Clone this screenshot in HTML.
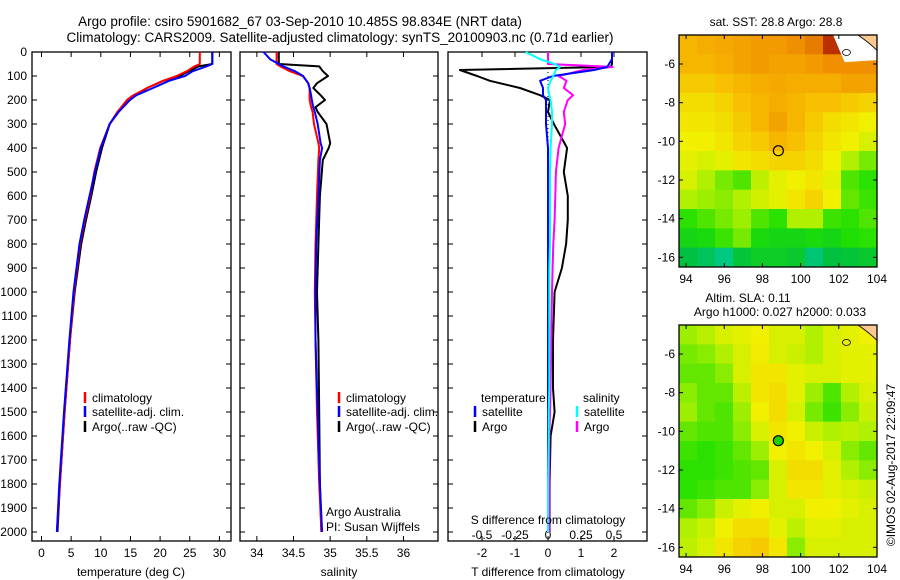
<!DOCTYPE html>
<html><head><meta charset="utf-8"><style>
html,body{margin:0;padding:0;background:#fff;}
svg{display:block;font-family:"Liberation Sans",sans-serif;}
</style></head><body>
<svg id="fig" width="900" height="580" viewBox="0 0 900 580" xmlns="http://www.w3.org/2000/svg">
<text x="300" y="26" font-size="13.5" text-anchor="middle">Argo profile: csiro 5901682_67 03-Sep-2010 10.485S 98.834E (NRT data)</text>
<text x="340" y="42" font-size="13.5" text-anchor="middle">Climatology: CARS2009. Satellite-adjusted climatology: synTS_20100903.nc (0.71d earlier)</text>
<g id="plots"></g>
</svg>
<script>
// ---- data ----
const tDepth = [0,50,60,80,100,120,150,180,200,250,300,400,500,600,700,800,1000,1200,1500,1800,2000];
const tClim  = [26.7,26.7,25.8,24.5,22.8,20.5,17.8,15.5,14.4,12.8,11.5,9.9,8.9,8.2,7.3,6.5,5.5,4.8,3.9,3.1,2.6];
const tSat   = [28.8,28.8,27.8,25.5,24.2,21.5,18.8,16,14.9,13,11.5,10,9,8.1,7.2,6.4,5.4,4.7,3.8,3.0,2.6];
const tArgo  = [28.8,28.8,26.5,24.8,23.3,20.5,17.8,15.8,14.9,12.8,11.5,10.2,9.2,8.4,7.5,6.7,5.6,4.8,3.9,3.1,2.7];
const sDepth = [0,30,50,60,80,100,130,150,180,200,230,250,300,380,400,450,600,800,1000,1200,1500,1800,2000];
const sClim  = [34.27,34.27,34.27,34.32,34.45,34.63,34.70,34.72,34.72,34.72,34.74,34.76,34.78,34.84,34.85,34.84,34.82,34.80,34.79,34.80,34.82,34.85,34.88];
const sSat   = [34.09,34.18,34.30,34.36,34.52,34.63,34.70,34.72,34.74,34.75,34.77,34.79,34.83,34.87,34.89,34.86,34.84,34.81,34.80,34.80,34.83,34.86,34.89];
const sArgo  = [34.30,34.30,34.30,34.85,34.90,34.97,34.82,34.77,34.87,34.93,34.80,34.83,34.95,35.00,34.98,34.90,34.86,34.84,34.82,34.84,34.85,34.86,34.88];
const dDepth = [0,30,50,62,75,100,120,150,180,200,250,300,400,500,600,700,800,900,1000,1200,1400,1500,1600,1800,2000];
const dTArgo = [1.94,1.94,1.94,1.9,-2.67,-2.15,-1.76,-0.85,-0.24,0.06,0.0,0.18,0.58,0.48,0.6,0.6,0.55,0.42,0.2,0.15,0.15,0.2,0.08,0.05,0.05];
const dTSat  = [1.94,1.94,1.85,1.8,1.4,0.15,-0.24,-0.15,-0.15,-0.06,-0.06,-0.06,0,0,0,0,0,0,0,0,0,0,0,0,0];
const dSSat  = [-0.17,-0.06,0.05,0.09,0.06,0.04,0.02,0.0,0.01,0.02,0.03,0.03,0.02,0.015,0.015,0.015,0.015,0.01,0.01,0.01,0.01,0.005,0.005,0.0,0.0];
const dSArgo = [0,0,0,0.49,0.27,0.08,0.14,0.12,0.19,0.15,0.12,0.13,0.08,0.06,0.055,0.05,0.04,0.035,0.03,0.025,0.02,0.015,0.01,0.01,0.01];
const depthTicks = [0,100,200,300,400,500,600,700,800,900,1000,1100,1200,1300,1400,1500,1600,1700,1800,1900,2000];
const tTicks = [0,5,10,15,20,25,30];
const sTicks = [34,34.5,35,35.5,36];
const sTickLabels = ["34","34.5","35","35.5","36"];
const dTTicks = [-2,-1,0,1,2];
const dSTicks = [-0.5,-0.25,0,0.25,0.5];
const dSTickLabels = ["-0.5","-0.25","0","0.25","0.5"];
const lonTicks = [94,96,98,100,102,104];
const latTicks = [-6,-8,-10,-12,-14,-16];
const sstGrid = [
[0.72,0.74,0.75,0.76,0.78,0.78,0.8,0.82,0.9,0.95,0.95],
[0.72,0.72,0.74,0.76,0.78,0.76,0.76,0.78,0.8,0.8,0.8],
[0.68,0.68,0.7,0.72,0.74,0.75,0.74,0.74,0.74,0.76,0.76],
[0.64,0.64,0.66,0.7,0.72,0.74,0.72,0.7,0.7,0.68,0.66],
[0.62,0.62,0.64,0.68,0.72,0.76,0.72,0.68,0.64,0.62,0.6],
[0.6,0.6,0.62,0.66,0.68,0.72,0.7,0.66,0.62,0.6,0.56],
[0.58,0.56,0.58,0.62,0.64,0.66,0.66,0.64,0.6,0.5,0.44],
[0.56,0.5,0.44,0.4,0.52,0.58,0.6,0.62,0.58,0.4,0.36],
[0.5,0.48,0.46,0.5,0.55,0.58,0.62,0.66,0.6,0.42,0.38],
[0.36,0.4,0.44,0.48,0.4,0.36,0.5,0.5,0.38,0.36,0.4],
[0.3,0.32,0.38,0.44,0.32,0.3,0.3,0.32,0.3,0.34,0.36],
[0.2,0.16,0.1,0.22,0.26,0.26,0.24,0.12,0.2,0.22,0.24]];
const slaGrid = [
[0.48,0.51,0.56,0.58,0.6,0.56,0.56,0.5,0.56,0.58,0.6],
[0.44,0.46,0.5,0.56,0.61,0.56,0.54,0.5,0.56,0.58,0.58],
[0.42,0.42,0.46,0.56,0.62,0.62,0.58,0.56,0.56,0.58,0.58],
[0.46,0.42,0.42,0.52,0.62,0.64,0.58,0.48,0.4,0.5,0.56],
[0.48,0.42,0.4,0.48,0.6,0.64,0.56,0.44,0.38,0.46,0.54],
[0.42,0.4,0.4,0.46,0.56,0.62,0.6,0.54,0.5,0.52,0.5],
[0.38,0.36,0.38,0.42,0.48,0.6,0.62,0.6,0.56,0.46,0.42],
[0.36,0.36,0.38,0.4,0.42,0.56,0.64,0.64,0.58,0.5,0.46],
[0.36,0.38,0.4,0.4,0.46,0.56,0.62,0.62,0.58,0.56,0.54],
[0.42,0.46,0.54,0.58,0.6,0.56,0.56,0.6,0.6,0.58,0.56],
[0.5,0.54,0.6,0.64,0.64,0.58,0.52,0.58,0.58,0.56,0.56],
[0.52,0.56,0.62,0.66,0.68,0.62,0.46,0.56,0.56,0.56,0.56]];
const argoLon = 98.834, argoLat = -10.485;

// ---- helpers ----
const NS = "http://www.w3.org/2000/svg";
const root = document.getElementById('plots');
function mk(tag, attrs, parent){ const e=document.createElementNS(NS,tag); for(const k in attrs) e.setAttribute(k,attrs[k]); (parent||root).appendChild(e); return e; }
function txt(s,x,y,attrs,parent){ const e=mk('text',Object.assign({x:x,y:y,'font-size':12},attrs||{}),parent); e.textContent=s; return e; }
const TOP=52, BOT=541;
const yD = d => TOP + d*0.24;
const xT = v => 41.5 + v*5.93;
const xS = v => 240 + (v-33.77)*73.3;
const xDT = v => 548 + v*33;
const xDS = v => 548 + v*132;

function frame(x0,x1,name){
  const r=mk('rect',{x:x0,y:TOP,width:x1-x0,height:BOT-TOP,fill:'none',stroke:'#000','stroke-width':1.3});
  
  
  depthTicks.forEach(d=>{ mk('line',{x1:x0,x2:x0+5,y1:yD(d),y2:yD(d),stroke:'#000'}); mk('line',{x1:x1-5,x2:x1,y1:yD(d),y2:yD(d),stroke:'#000'}); });
}
function xticks(vals,fx,labels,ly,name){
  vals.forEach((v,i)=>{ const x=fx(v);
    mk('line',{x1:x,x2:x,y1:TOP,y2:TOP+5,stroke:'#000'}); mk('line',{x1:x,x2:x,y1:BOT-5,y2:BOT,stroke:'#000'});
    const t=txt(labels?labels[i]:String(v),x,ly,{'text-anchor':'middle'});
    
    
  });
}
function line(depths,vals,fx,color,name,w){
  const pts=depths.map((d,i)=>fx(vals[i]).toFixed(1)+','+yD(d).toFixed(1)).join(' ');
  const p=mk('polyline',{points:pts,fill:'none',stroke:color,'stroke-width':w||2,'stroke-linejoin':'round'});
  
  
}
function legendItem(x,y,color,label,name){
  const g=mk('g',{});
  
  
  mk('line',{x1:x,x2:x,y1:y-10,y2:y+1,stroke:color,'stroke-width':2.5},g);
  txt(label,x+7,y,{},g);
}

depthTicks.forEach(d=>{ const t=txt(String(d),27,yD(d)+4,{'text-anchor':'end'});
  
   });

// panel 1 temperature
frame(32,231,'temperature-panel');
xticks(tTicks,xT,null,557,'temperature-tick-label');
line(tDepth,tArgo,xT,'#000','temp-argo-line');
line(tDepth,tClim,xT,'#f00','temp-climatology-line');
line(tDepth,tSat,xT,'#00f','temp-satellite-line');
txt('temperature (deg C)',131,576,{'text-anchor':'middle',});
legendItem(85,402,'#f00','climatology','legend-climatology');
legendItem(85,416,'#00f','satellite-adj. clim.','legend-satellite');
legendItem(85,431,'#000','Argo(..raw -QC)','legend-argo');

// panel 2 salinity
frame(240,438,'salinity-panel');
xticks(sTicks,xS,sTickLabels,557,'salinity-tick-label');
line(sDepth,sArgo,xS,'#000','sal-argo-line');
line(sDepth,sClim,xS,'#f00','sal-climatology-line');
line(sDepth,sSat,xS,'#00f','sal-satellite-line');
txt('salinity',339,576,{'text-anchor':'middle',});
legendItem(339,402,'#f00','climatology','legend-sal-climatology');
legendItem(339,416,'#00f','satellite-adj. clim.','legend-sal-satellite');
legendItem(339,431,'#000','Argo(..raw -QC)','legend-sal-argo');
txt('Argo Australia',326,516,{});
txt('PI: Susan Wijffels',326,531,{});

// panel 3 differences
frame(448,647,'difference-panel');
xticks(dTTicks,xDT,null,557,'t-diff-tick-label');
dSTicks.forEach((v,i)=>{ const t=txt(dSTickLabels[i],xDS(v),539,{'text-anchor':'middle'});
  
   });
mk('line',{x1:548,x2:548,y1:TOP,y2:BOT,stroke:'#000','stroke-dasharray':'1,3'});
line(dDepth,dTArgo,xDT,'#000','t-diff-argo-line');
line(dDepth,dSArgo,xDS,'#f0f','s-diff-argo-line');
line(dDepth,dTSat,xDT,'#00f','t-diff-satellite-line');
line(dDepth,dSSat,xDS,'#0ff','s-diff-satellite-line');
txt('S difference from climatology',548,524,{'text-anchor':'middle',});
txt('T difference from climatology',548,576,{'text-anchor':'middle',});
txt('temperature',481,402,{});
txt('salinity',583,402,{});
legendItem(475,416,'#00f','satellite','legend-t-satellite');
legendItem(475,431,'#000','Argo','legend-t-argo');
legendItem(577,416,'#0ff','satellite','legend-s-satellite');
legendItem(577,431,'#f0f','Argo','legend-s-argo');

// ---- maps ----
const cmapStops=[[0,[0,208,192]],[0.2,[0,192,64]],[0.35,[32,224,0]],[0.5,[176,240,0]],[0.6,[240,240,0]],[0.7,[248,192,0]],[0.8,[240,144,0]],[0.95,[160,0,0]]];
function cmap(v){ for(let i=0;i<cmapStops.length-1;i++){ const [a,ca]=cmapStops[i],[b,cb]=cmapStops[i+1];
  if(v<=b){ const f=Math.max(0,(v-a)/(b-a)); return 'rgb('+ca.map((c,k)=>Math.round(c+(cb[k]-c)*f)).join(',')+')'; } }
  return 'rgb(160,0,0)'; }
const MX0=679, MX1=877, LON0=93.63, LON1=104;
const xLon = lon => MX0 + (lon-LON0)*(MX1-MX0)/(LON1-LON0);
function drawMap(top,grid,name,isSla){
  const bot=top+232, LAT0=-4.5, LAT1=-16.5;
  const yLat = lat => top + (LAT0-lat)*(bot-top)/(LAT0-LAT1);
  const g=mk('g',{});  
  const rows=grid.length, cols=grid[0].length;
  grid.forEach((row,r)=>row.forEach((v,c)=>{
    const lon0=LON0+c*(LON1-LON0)/cols, lon1=LON0+(c+1)*(LON1-LON0)/cols;
    const la0=LAT0-r*(LAT0-LAT1)/rows, la1=LAT0-(r+1)*(LAT0-LAT1)/rows;
    const cell=mk('rect',{x:xLon(lon0),y:yLat(la0),width:xLon(lon1)-xLon(lon0)+0.5,height:yLat(la1)-yLat(la0)+0.5,fill:cmap(v)},g);
    
    
  }));
  if(!isSla) mk('path',{d:`M${xLon(101.7)},${top} L${MX1},${top} L${MX1},${yLat(-5.8)} L${xLon(102.3)},${yLat(-5.9)} Z`,fill:'#fff'},g);
  mk('path',{d:`M${xLon(103)},${top} L${MX1},${top} L${MX1},${yLat(-5.3)} Q${xLon(103.6)},${yLat(-4.9)} ${xLon(103)},${top} Z`,fill:'#fcc890',stroke:'#000','stroke-width':0.8},g);
  mk('ellipse',{cx:xLon(102.4),cy:yLat(-5.4),rx:4,ry:3,fill:'none',stroke:'#000','stroke-width':0.8},g);
  const c=mk('circle',{cx:xLon(argoLon),cy:yLat(argoLat),r:5,fill:isSla?'#20d000':'none',stroke:'#000','stroke-width':1.2},g);
  
  
  mk('rect',{x:MX0,y:top,width:MX1-MX0,height:bot-top,fill:'none',stroke:'#000','stroke-width':1.3},g);
  lonTicks.forEach(l=>{ const x=xLon(l); mk('line',{x1:x,x2:x,y1:top,y2:top+4,stroke:'#000'},g); mk('line',{x1:x,x2:x,y1:bot-4,y2:bot,stroke:'#000'},g);
    const t=txt(String(l),x,bot+16,{'text-anchor':'middle'},g);   });
  latTicks.forEach(l=>{ const y=yLat(l); mk('line',{x1:MX0,x2:MX0+4,y1:y,y2:y,stroke:'#000'},g); mk('line',{x1:MX1-4,x2:MX1,y1:y,y2:y,stroke:'#000'},g);
    const t=txt(String(l),675,y+4,{'text-anchor':'end'},g);   });
}
drawMap(35,sstGrid,'sst-map',false);
drawMap(325,slaGrid,'sla-map',true);
txt('sat. SST: 28.8 Argo: 28.8',776,26,{'text-anchor':'middle',});
txt('Altim. SLA: 0.11',748,302,{'text-anchor':'middle',});
txt('Argo h1000: 0.027 h2000: 0.033',780,316,{'text-anchor':'middle',});
txt('©IMOS 02-Aug-2017 22:09:47',0,0,{'text-anchor':'middle','transform':'translate(895,465) rotate(-90)',});
</script>
</body></html>
